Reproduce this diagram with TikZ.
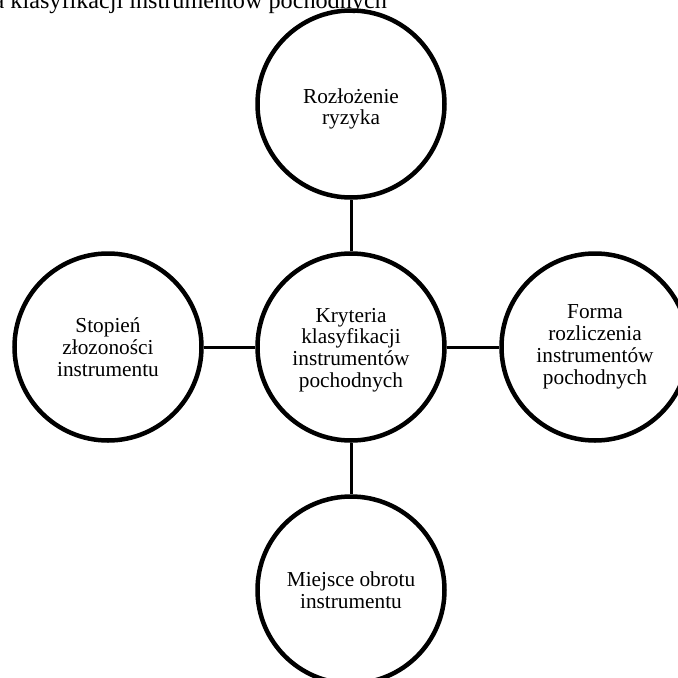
\documentclass[tikz,border=0pt]{standalone}
\usepackage{fontspec}
\setmainfont{Liberation Serif}
\begin{document}
\begin{tikzpicture}[x=1pt,y=-1pt,
  topic/.style={circle,draw=black,line width=4.5pt,minimum size=187pt,inner sep=0pt,
    align=center,font=\fontsize{21.3}{21.8}\selectfont},
  caption/.style={align=center,font=\fontsize{21.3}{21.8}\selectfont},
  link/.style={draw=black,line width=3pt}]
\useasboundingbox (0,0) rectangle (678,678);
% title line, partly above the page
\node[anchor=base east,inner sep=0pt,font=\fontsize{24.2}{28}\selectfont] (title) at (387,8.5)
  {Kryteria klasyfikacji instrumentów pochodnych};
% the five circles (two of them carry their text slightly lowered)
\node[topic] (centre) at (351,347) {};
\node[caption] (centretext) at (351,350)
  {Kryteria\\klasyfikacji\\instrumentów\\pochodnych};
\node[topic] (top) at (351,104) {};
\node[caption] (toptext) at (351,109)
  {Rozłożenie\\ryzyka};
\node[topic] (left) at (108,347) {Stopień\\złozoności\\instrumentu};
\node[topic] (right) at (595,347) {Forma\\rozliczenia\\instrumentów\\pochodnych};
\node[topic] (bottom) at (351,590) {Miejsce obrotu\\instrumentu};
% spokes
\draw[link] (centre) -- (top);
\draw[link] (centre) -- (left);
\draw[link] (centre) -- (right);
\draw[link] (centre) -- (bottom);
\end{tikzpicture}
\end{document}
